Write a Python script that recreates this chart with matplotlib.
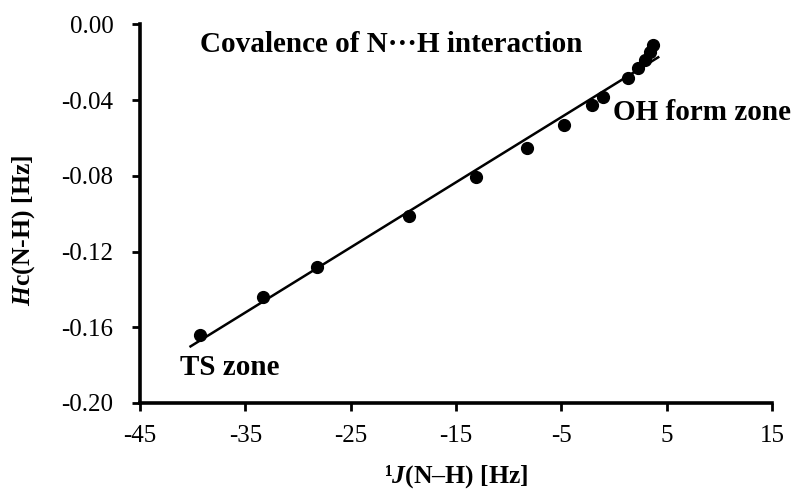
import numpy as np
import matplotlib
matplotlib.use("Agg")
import matplotlib.pyplot as plt
from matplotlib.ticker import FormatStrFormatter

# values
j_nh = [-39.3, -33.3, -28.2, -19.5, -13.1, -8.3, -4.7, -2.1, -1.0,
        1.3, 2.3, 2.9, 3.4, 3.7]
hc_nh = [-0.164, -0.144, -0.128, -0.101, -0.0805, -0.065, -0.053, -0.0425,
         -0.0385, -0.0285, -0.023, -0.019, -0.0145, -0.011]
fit_range = [-40.2, 4.2]
x_ticks = [-45, -35, -25, -15, -5, 5, 15]
y_ticks = [0.00, -0.04, -0.08, -0.12, -0.16, -0.20]

plt.rcParams["font.family"] = "Liberation Serif"
plt.rcParams["axes.unicode_minus"] = False
plt.rcParams["mathtext.fontset"] = "custom"
plt.rcParams["mathtext.it"] = "Liberation Serif:italic:bold"
plt.rcParams["mathtext.rm"] = "Liberation Serif:bold"

fig = plt.figure(figsize=(7.93, 4.90), dpi=100)
ax = fig.add_axes([0.1765, 0.1776, 0.797, 0.7724])

# linear trend line through the points
k, b = np.polyfit(j_nh, hc_nh, 1)
xs = np.array(fit_range)
ax.plot(xs, k * xs + b, color="black", lw=1.8, zorder=2)
ax.plot(j_nh, hc_nh, "o", color="black", ms=8.5, zorder=3)

ax.set_xlim(-45, 15)
ax.set_ylim(-0.20, 0.00)
ax.set_xticks(x_ticks)
ax.set_yticks(y_ticks)
ax.yaxis.set_major_formatter(FormatStrFormatter("%.2f"))

for side in ["top", "right"]:
    ax.spines[side].set_visible(False)
for side in ["left", "bottom"]:
    ax.spines[side].set_linewidth(2.6)
ax.tick_params(direction="out", length=6, width=2, labelsize=18)
ax.tick_params(axis="y", pad=13)
ax.tick_params(axis="x", pad=10)

ax.set_xlabel("¹$J$(N–H) [Hz]", fontsize=18.5, fontweight="bold")
ax.set_ylabel("$H$c(N-H) [Hz]", fontsize=18.5, fontweight="bold")
ax.xaxis.set_label_coords(0.5, -0.158)
ax.yaxis.set_label_coords(-0.163, 0.457)

ax.text(-39.3, -0.0146, "Covalence of N···H interaction", fontsize=21,
        fontweight="bold", va="baseline")
ax.text(-0.1, -0.0505, "OH form zone", fontsize=21, fontweight="bold",
        va="baseline")
ax.text(-41.2, -0.185, "TS zone", fontsize=21, fontweight="bold",
        va="baseline")

fig.savefig("out.png", dpi=100)
